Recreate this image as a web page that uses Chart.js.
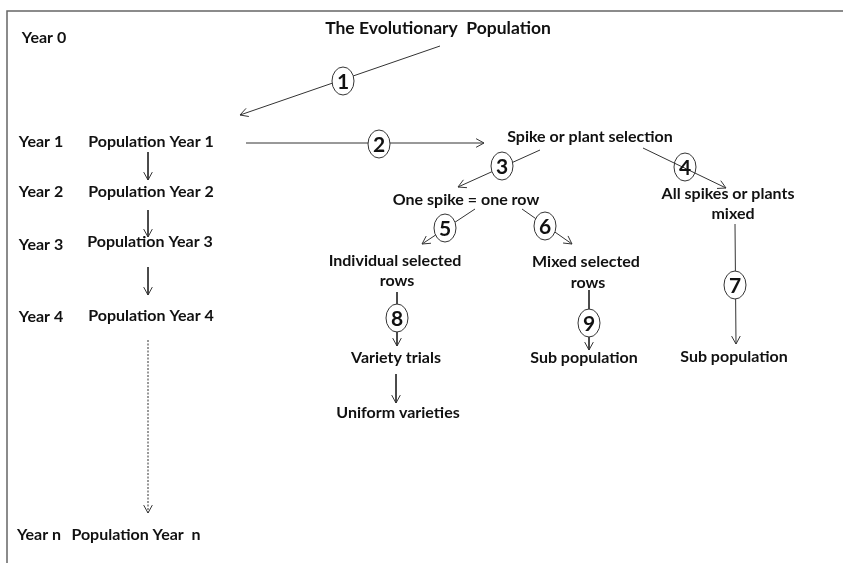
<!DOCTYPE html>
<html>
<head>
<meta charset="utf-8">
<script src="https://cdn.jsdelivr.net/npm/chart.js@4/dist/chart.umd.min.js"></script>
<style>
  html, body { margin: 0; padding: 0; background: #fff; }
  #wrap { width: 843px; height: 563px; }
</style>
</head>
<body>
<div id="wrap"><canvas id="chart" width="843" height="563"></canvas></div>
<script>
// diagram units: x 0..843, y 0..563 (top down)

// text nodes
const nodeText = [
  'Year 0', 'The Evolutionary  Population',
  'Year 1', 'Population Year 1',
  'Year 2', 'Population Year 2',
  'Year 3', 'Population Year 3',
  'Year 4', 'Population Year 4',
  'Year n', 'Population Year  n',
  'Spike or plant selection',
  'One spike = one row',
  'All spikes or plants', 'mixed',
  'Individual selected', 'rows',
  'Mixed selected', 'rows',
  'Variety trials', 'Uniform varieties',
  'Sub population', 'Sub population'
]
const nodeX = [44, 438, 41, 151, 41, 151, 41, 150, 41, 151, 39, 136,
  590, 466, 728, 733, 395, 397, 586, 588, 396, 398, 584, 734]
const nodeY = [38, 28, 142, 142, 192, 192, 245, 242, 317, 316, 535, 535,
  137, 200, 194, 214, 261, 281, 262, 283, 358, 413, 358, 357]

// connectors
const edgeX1 = [440, 246, 540, 643, 475, 522, 397, 396, 589, 735, 148, 148, 148, 148]
const edgeY1 = [46, 143, 150, 148, 209, 209, 292, 374, 290, 224, 152, 210, 267, 340]
const edgeX2 = [240, 484, 458, 726, 422, 572, 397, 396, 589, 736, 148, 148, 148, 148]
const edgeY2 = [115, 143, 187, 188, 244, 244, 346, 403, 350, 344, 180, 237, 295, 513]
const edgeDotted = [false, false, false, false, false, false, false, false, false, false, false, false, false, true]

// numbered steps
const badgeNum = [1, 2, 3, 4, 5, 6, 7, 8, 9]
const badgeX = [343, 379, 502, 685, 445, 545, 735, 397, 589]
const badgeY = [81, 144, 166, 167, 228, 226, 285, 318, 323]
const badgeFilled = [true, true, true, false, true, true, true, true, true]

// frame (top and left only)
const frameX = [843, 7, 7]
const frameY = [11, 11, 563]

const FONT = 'Lato, "Open Sans", sans-serif'
const INK = '#111'
const LINE = '#333'

let datasets = []

datasets.push({
  label: 'frame',
  data: frameX.map((x, i) => ({x: x, y: frameY[i]})),
  showLine: true,
  borderColor: '#666',
  borderWidth: 1.5,
  pointRadius: 0
})

for (let i = 0; i < edgeX1.length; i++) {
  datasets.push({
    label: 'edge' + i,
    data: [{x: edgeX1[i], y: edgeY1[i]}, {x: edgeX2[i], y: edgeY2[i]}],
    showLine: true,
    borderColor: LINE,
    borderWidth: 1,
    borderDash: edgeDotted[i] ? [2, 1.5] : [],
    pointRadius: 0,
    arrow: true
  })
}

datasets.push({
  label: 'badges',
  data: badgeX.map((x, i) => ({x: x, y: badgeY[i]})),
  pointRadius: 0,
  badges: true
})

const diagramPlugin = {
  id: 'diagram',
  afterDatasetsDraw(chart) {
    const ctx = chart.ctx
    const xs = chart.scales.x
    const ys = chart.scales.y

    // arrow heads at the end of each connector
    chart.data.datasets.forEach((ds, di) => {
      if (!ds.arrow) return
      const pts = chart.getDatasetMeta(di).data
      const a = pts[0], b = pts[1]
      const ang = Math.atan2(b.y - a.y, b.x - a.x)
      const len = 9, spread = 0.5
      ctx.save()
      ctx.strokeStyle = LINE
      ctx.lineWidth = 1
      ctx.beginPath()
      ctx.moveTo(b.x - len * Math.cos(ang - spread), b.y - len * Math.sin(ang - spread))
      ctx.lineTo(b.x, b.y)
      ctx.lineTo(b.x - len * Math.cos(ang + spread), b.y - len * Math.sin(ang + spread))
      ctx.stroke()
      ctx.restore()
    })

    // numbered ellipses
    chart.data.datasets.forEach((ds, di) => {
      if (!ds.badges) return
      const pts = chart.getDatasetMeta(di).data
      pts.forEach((p, i) => {
        ctx.save()
        ctx.beginPath()
        ctx.ellipse(p.x, p.y, 11, 14, 0, 0, Math.PI * 2)
        if (badgeFilled[i]) {
          ctx.fillStyle = '#fff'
          ctx.fill()
        }
        ctx.strokeStyle = LINE
        ctx.lineWidth = 1
        ctx.stroke()
        ctx.fillStyle = INK
        ctx.font = 'bold 21px ' + FONT
        ctx.textAlign = 'center'
        ctx.textBaseline = 'middle'
        ctx.fillText(String(badgeNum[i]), p.x, p.y + 1)
        ctx.restore()
      })
    })

    // text labels (the title is set a little larger)
    ctx.save()
    ctx.fillStyle = INK
    ctx.textAlign = 'center'
    ctx.textBaseline = 'middle'
    nodeText.forEach((t, i) => {
      ctx.font = (i === 1 ? 'bold 17.5px ' : 'bold 16px ') + FONT
      ctx.fillText(t, xs.getPixelForValue(nodeX[i]), ys.getPixelForValue(nodeY[i]))
    })
    ctx.restore()
  }
}

new Chart(document.getElementById('chart'), {
  type: 'scatter',
  data: { datasets: datasets },
  options: {
    responsive: false,
    animation: false,
    layout: { padding: 0 },
    plugins: { legend: { display: false }, tooltip: { enabled: false } },
    scales: {
      x: { type: 'linear', min: 0, max: 843, display: false },
      y: { type: 'linear', min: 0, max: 563, reverse: true, display: false }
    }
  },
  plugins: [diagramPlugin]
})
</script>
</body>
</html>
